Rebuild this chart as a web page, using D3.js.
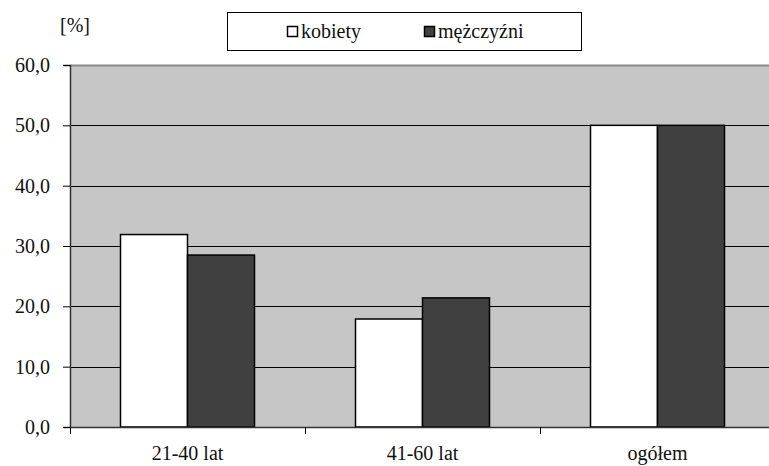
<!DOCTYPE html>
<html>
<head>
<meta charset="utf-8">
<script src="https://cdn.jsdelivr.net/npm/d3@7"></script>
<style>
  html, body { margin: 0; padding: 0; background: #fff; }
  svg { display: block; }
</style>
</head>
<body>
<svg id="chart" width="769" height="466"></svg>
<script>
// Age groups and the share (%) of each sex
const categories = ["21-40 lat", "41-60 lat", "ogółem"];
const seriesNames = ["kobiety", "mężczyźni"];
const kobiety = [31.9, 17.9, 50.0];
const mezczyzni = [28.5, 21.4, 50.0];
const yTicks = [0, 10, 20, 30, 40, 50, 60];
const yUnit = "[%]";

const seriesColors = ["#ffffff", "#404040"];
const values = [kobiety, mezczyzni];
const FONT = "Liberation Serif, DejaVu Serif, serif";

const svg = d3.select("#chart");
const plot = { left: 70, right: 775, top: 65, bottom: 427 };

const x0 = d3.scaleBand().domain(categories).range([plot.left, plot.right]).paddingInner(0).paddingOuter(0);
const x1 = d3.scaleBand().domain(seriesNames).range([0, 134]);
const y = d3.scaleLinear().domain([0, 60]).range([plot.bottom, plot.top]);

// plot background
svg.append("rect")
  .attr("x", plot.left).attr("y", plot.top)
  .attr("width", plot.right - plot.left).attr("height", plot.bottom - plot.top)
  .attr("fill", "#c6c6c6");

// horizontal gridlines
svg.append("g").selectAll("line")
  .data(yTicks.filter(t => t > 0 && t < 60))
  .join("line")
  .attr("x1", plot.left).attr("x2", plot.right)
  .attr("y1", d => Math.round(y(d)) + 0.5).attr("y2", d => Math.round(y(d)) + 0.5)
  .attr("stroke", "#000").attr("stroke-width", 1);

// top border of plot area
svg.append("line")
  .attr("x1", plot.left).attr("x2", plot.right)
  .attr("y1", plot.top + 0.5).attr("y2", plot.top + 0.5)
  .attr("stroke", "#8a8a8a").attr("stroke-width", 2);

// bars
const groups = svg.append("g").selectAll("g")
  .data(categories)
  .join("g")
  .attr("transform", d => `translate(${x0(d) + (x0.bandwidth() - 134) / 2},0)`);

groups.selectAll("rect")
  .data((d, i) => seriesNames.map((s, j) => ({ s, v: values[j][i], c: seriesColors[j] })))
  .join("rect")
  .attr("x", d => x1(d.s))
  .attr("y", d => y(d.v))
  .attr("width", x1.bandwidth())
  .attr("height", d => y(0) - y(d.v))
  .attr("fill", d => d.c)
  .attr("stroke", "#000")
  .attr("stroke-width", 1.5);

// y axis
const yAxis = d3.axisLeft(y)
  .tickValues(yTicks)
  .tickSize(7)
  .tickPadding(13)
  .tickFormat(d => d3.format(".1f")(d).replace(".", ","));

const gy = svg.append("g")
  .attr("transform", `translate(${plot.left},0)`)
  .call(yAxis)
  .attr("font-family", FONT)
  .attr("font-size", 20);
gy.select(".domain").attr("stroke", "#333").attr("stroke-width", 1.5);
gy.selectAll(".tick line").attr("stroke", "#000");
gy.selectAll("text").attr("fill", "#111");

// x axis
const xAxis = d3.axisBottom(x0).tickSize(0).tickPadding(19);
const gx = svg.append("g")
  .attr("transform", `translate(0,${plot.bottom})`)
  .call(xAxis)
  .attr("font-family", FONT)
  .attr("font-size", 20);
gx.select(".domain").attr("stroke", "#333").attr("stroke-width", 1.5);
gx.selectAll("text").attr("fill", "#111");

// category separators below the axis
svg.append("g").selectAll("line")
  .data(categories)
  .join("line")
  .attr("x1", d => x0(d) + 0.5).attr("x2", d => x0(d) + 0.5)
  .attr("y1", plot.bottom).attr("y2", plot.bottom + 7)
  .attr("stroke", "#000");

// unit label
svg.append("text")
  .attr("x", 60).attr("y", 32)
  .attr("font-family", FONT).attr("font-size", 20).attr("fill", "#111")
  .text(yUnit);

// legend
const legend = svg.append("g");
legend.append("rect")
  .attr("x", 227.5).attr("y", 12.5).attr("width", 354).attr("height", 38)
  .attr("fill", "#fff").attr("stroke", "#000").attr("stroke-width", 1);

const legendX = [287, 424];
seriesNames.forEach((s, i) => {
  legend.append("rect")
    .attr("x", legendX[i] + 0.5).attr("y", 26.5).attr("width", 10).attr("height", 10)
    .attr("fill", seriesColors[i]).attr("stroke", "#000").attr("stroke-width", 1.5);
  legend.append("text")
    .attr("x", legendX[i] + 14).attr("y", 38)
    .attr("font-family", FONT).attr("font-size", 20).attr("fill", "#111")
    .text(s);
});
</script>
</body>
</html>
